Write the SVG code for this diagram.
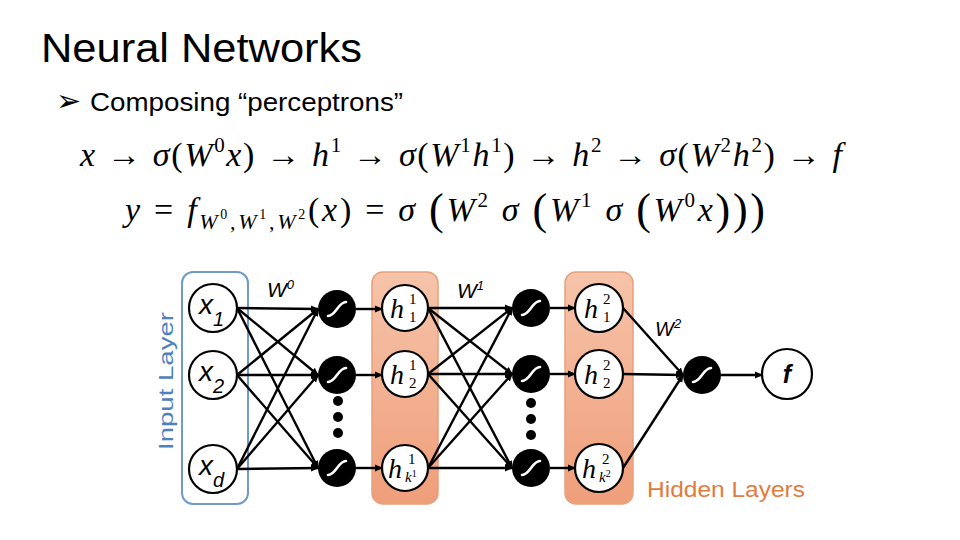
<svg xmlns="http://www.w3.org/2000/svg" width="960" height="540" viewBox="0 0 960 540">
<style>
.title{font-family:"Liberation Sans",Arial,sans-serif;font-size:41px;fill:#000}
.sub{font-family:"Liberation Sans",Arial,sans-serif;font-size:26px;fill:#000}
.math{font-family:"Liberation Serif","Times New Roman",serif;font-size:34px;fill:#000}
.mi{font-style:italic}
.node{fill:#fff;stroke:#000;stroke-width:2.2}
.sig{fill:#000}
.sigc{fill:none;stroke:#fff;stroke-width:2.6;stroke-linecap:round}
.lab{font-family:"Liberation Sans",Arial,sans-serif;font-style:italic;fill:#000}
.hl{font-family:"Liberation Serif","Times New Roman",serif;font-style:italic;fill:#000}
.hn{font-family:"Liberation Serif","Times New Roman",serif;fill:#000}
.edge{stroke:#000;stroke-width:2.4;fill:none;marker-end:url(#ah)}
.dot{fill:#000}
.hbox{fill:url(#hg);stroke:#e8a07c;stroke-width:1.5}
</style>
<defs>
<marker id="ah" markerWidth="8" markerHeight="8" refX="7" refY="4" orient="auto" markerUnits="userSpaceOnUse">
<path d="M0,0.5 L8,4 L0,7.5 Z" fill="#000"/>
</marker>
<linearGradient id="hg" x1="0" y1="0" x2="0" y2="1">
<stop offset="0" stop-color="#f6c4aa"/>
<stop offset="1" stop-color="#ef9e7a"/>
</linearGradient>
<g id="sgl"><circle r="19" class="sig"/><path class="sigc" d="M-9,7 C-1,7 1,-7 9,-7"/></g>
</defs>
<rect width="960" height="540" fill="#fff"/>

<text class="title" x="41" y="62" textLength="321" lengthAdjust="spacingAndGlyphs">Neural Networks</text>
<text x="56" y="111" font-family="DejaVu Sans,sans-serif" font-size="30" fill="#000">➢</text>
<text class="sub" x="90" y="111" textLength="313" lengthAdjust="spacingAndGlyphs">Composing “perceptrons”</text>

<!-- equation 1 -->
<text class="math" x="80" y="166" textLength="762" lengthAdjust="spacing"><tspan class="mi">x</tspan> → <tspan class="mi">σ</tspan>(<tspan class="mi">W</tspan><tspan font-size="21" dy="-14">0</tspan><tspan class="mi" dy="14">x</tspan>) → <tspan class="mi">h</tspan><tspan font-size="21" dy="-14">1</tspan><tspan dy="14"> → </tspan><tspan class="mi">σ</tspan>(<tspan class="mi">W</tspan><tspan font-size="21" dy="-14">1</tspan><tspan class="mi" dy="14">h</tspan><tspan font-size="21" dy="-14">1</tspan><tspan dy="14">) → </tspan><tspan class="mi">h</tspan><tspan font-size="21" dy="-14">2</tspan><tspan dy="14"> → </tspan><tspan class="mi">σ</tspan>(<tspan class="mi">W</tspan><tspan font-size="21" dy="-14">2</tspan><tspan class="mi" dy="14">h</tspan><tspan font-size="21" dy="-14">2</tspan><tspan dy="14">) → </tspan><tspan class="mi">f</tspan></text>

<!-- equation 2 -->
<text class="math" x="125" y="221" textLength="640" lengthAdjust="spacing"><tspan class="mi">y</tspan> = <tspan class="mi">f</tspan><tspan class="mi" font-size="22" dy="8">W</tspan><tspan font-size="14" dy="-10">0</tspan><tspan font-size="22" dy="10">,</tspan><tspan class="mi" font-size="22">W</tspan><tspan font-size="14" dy="-10">1</tspan><tspan font-size="22" dy="10">,</tspan><tspan class="mi" font-size="22">W</tspan><tspan font-size="14" dy="-10">2</tspan><tspan dy="2">(</tspan><tspan class="mi">x</tspan>) = <tspan class="mi">σ</tspan> <tspan font-size="44" dy="3">(</tspan><tspan class="mi" dy="-3">W</tspan><tspan font-size="21" dy="-14">2</tspan><tspan class="mi" dy="14"> σ </tspan><tspan font-size="44" dy="3">(</tspan><tspan class="mi" dy="-3">W</tspan><tspan font-size="21" dy="-14">1</tspan><tspan class="mi" dy="14"> σ </tspan><tspan font-size="44" dy="3">(</tspan><tspan class="mi" dy="-3">W</tspan><tspan font-size="21" dy="-14">0</tspan><tspan class="mi" dy="14">x</tspan><tspan font-size="44" dy="3">)))</tspan></text>

<!-- layer boxes -->
<g id="input-layer">
<rect x="182" y="272" width="66" height="232" rx="11" fill="none" stroke="#6e9cc6" stroke-width="2"/>
<text transform="translate(173,381) rotate(-90)" text-anchor="middle" font-family="Liberation Sans,Arial,sans-serif" font-size="21" fill="#4f81bd" textLength="138" lengthAdjust="spacingAndGlyphs">Input Layer</text>
</g>
<g id="hidden-box-1"><rect class="hbox" x="372" y="272" width="66" height="232" rx="11"/></g>
<g id="hidden-box-2"><rect class="hbox" x="565" y="272" width="68" height="232" rx="11"/></g>

<!-- connectors -->
<g id="connectors">
<path class="edge" d="M237,308 L318,309"/>
<path class="edge" d="M237,308 L318,375"/>
<path class="edge" d="M237,308 L318,468"/>
<path class="edge" d="M237,375 L318,309"/>
<path class="edge" d="M237,375 L318,375"/>
<path class="edge" d="M237,375 L318,468"/>
<path class="edge" d="M237,469 L318,309"/>
<path class="edge" d="M237,469 L318,375"/>
<path class="edge" d="M237,469 L318,468"/>
<path class="edge" d="M356,309 L382,309"/>
<path class="edge" d="M356,375 L382,375"/>
<path class="edge" d="M356,468 L382,468"/>
<path class="edge" d="M428,308 L512,308"/>
<path class="edge" d="M428,308 L512,374"/>
<path class="edge" d="M428,308 L512,468"/>
<path class="edge" d="M428,374 L512,308"/>
<path class="edge" d="M428,374 L512,374"/>
<path class="edge" d="M428,374 L512,468"/>
<path class="edge" d="M428,468 L512,308"/>
<path class="edge" d="M428,468 L512,374"/>
<path class="edge" d="M428,468 L512,468"/>
<path class="edge" d="M550,308 L575,308"/>
<path class="edge" d="M550,374 L575,374"/>
<path class="edge" d="M550,468 L575,468"/>
<path class="edge" d="M623,308 L683,375"/>
<path class="edge" d="M623,374 L683,375"/>
<path class="edge" d="M623,468 L683,375"/>
<path class="edge" d="M721,375 L762,375"/>
</g>

<!-- weight labels -->
<text class="lab" x="267" y="297" font-size="21">W<tspan font-size="13" dy="-8">0</tspan></text>
<text class="lab" x="457" y="298" font-size="21">W<tspan font-size="13" dy="-8">1</tspan></text>
<text class="lab" x="655" y="336" font-size="20">W<tspan font-size="13" dy="-8">2</tspan></text>

<!-- input nodes -->
<g id="x1"><circle class="node" cx="213" cy="308" r="24"/><text class="lab" x="199" y="314" font-size="28">x<tspan font-size="20" dy="12">1</tspan></text></g>
<g id="x2"><circle class="node" cx="213" cy="375" r="24"/><text class="lab" x="199" y="381" font-size="28">x<tspan font-size="20" dy="12">2</tspan></text></g>
<g id="xd"><circle class="node" cx="213" cy="469" r="24"/><text class="lab" x="199" y="475" font-size="28">x<tspan font-size="20" dy="12">d</tspan></text></g>

<!-- sigmoid layer 1 -->
<g id="s1-1"><use href="#sgl" x="337" y="309"/></g>
<g id="s1-2"><use href="#sgl" x="337" y="375"/></g>
<g id="s1-k"><use href="#sgl" x="337" y="468"/></g>
<g id="dots-1"><circle class="dot" cx="338" cy="401" r="5"/><circle class="dot" cx="338" cy="417" r="5"/><circle class="dot" cx="338" cy="433" r="5"/></g>

<!-- hidden layer 1 -->
<g id="h1-1"><circle class="node" cx="405" cy="308" r="23"/><text class="hl" x="390" y="318" font-size="28">h</text><text class="hn" x="409" y="304" font-size="15">1</text><text class="hn" x="409" y="322" font-size="15">1</text></g>
<g id="h1-2"><circle class="node" cx="405" cy="374" r="23"/><text class="hl" x="390" y="384" font-size="28">h</text><text class="hn" x="409" y="370" font-size="15">1</text><text class="hn" x="409" y="388" font-size="15">2</text></g>
<g id="h1-k"><circle class="node" cx="405" cy="468" r="23"/><text class="hl" x="388" y="478" font-size="28">h</text><text class="hn" x="408" y="464" font-size="15">1</text><text class="hl" x="405" y="482" font-size="15">k<tspan class="hn" font-size="10" dy="-5" font-style="normal">1</tspan></text></g>

<!-- sigmoid layer 2 -->
<g id="s2-1"><use href="#sgl" x="531" y="308"/></g>
<g id="s2-2"><use href="#sgl" x="531" y="374"/></g>
<g id="s2-k"><use href="#sgl" x="531" y="468"/></g>
<g id="dots-2"><circle class="dot" cx="531" cy="403" r="5"/><circle class="dot" cx="531" cy="419" r="5"/><circle class="dot" cx="531" cy="435" r="5"/></g>

<!-- hidden layer 2 -->
<g id="h2-1"><circle class="node" cx="599" cy="308" r="24"/><text class="hl" x="584" y="318" font-size="28">h</text><text class="hn" x="603" y="304" font-size="15">2</text><text class="hn" x="603" y="322" font-size="15">1</text></g>
<g id="h2-2"><circle class="node" cx="599" cy="374" r="24"/><text class="hl" x="584" y="384" font-size="28">h</text><text class="hn" x="603" y="370" font-size="15">2</text><text class="hn" x="603" y="388" font-size="15">2</text></g>
<g id="h2-k"><circle class="node" cx="599" cy="468" r="24"/><text class="hl" x="582" y="478" font-size="28">h</text><text class="hn" x="602" y="464" font-size="15">2</text><text class="hl" x="599" y="482" font-size="15">k<tspan class="hn" font-size="10" dy="-5" font-style="normal">2</tspan></text></g>

<!-- output -->
<g id="s3"><use href="#sgl" x="702" y="375"/></g>
<g id="f"><circle class="node" cx="787" cy="374" r="25"/><text class="lab" x="787" y="383" font-size="25" text-anchor="middle" font-weight="bold">f</text></g>

<text x="647" y="497" font-family="Liberation Sans,Arial,sans-serif" font-size="22" fill="#e07c3e" textLength="158" lengthAdjust="spacingAndGlyphs">Hidden Layers</text>
</svg>
